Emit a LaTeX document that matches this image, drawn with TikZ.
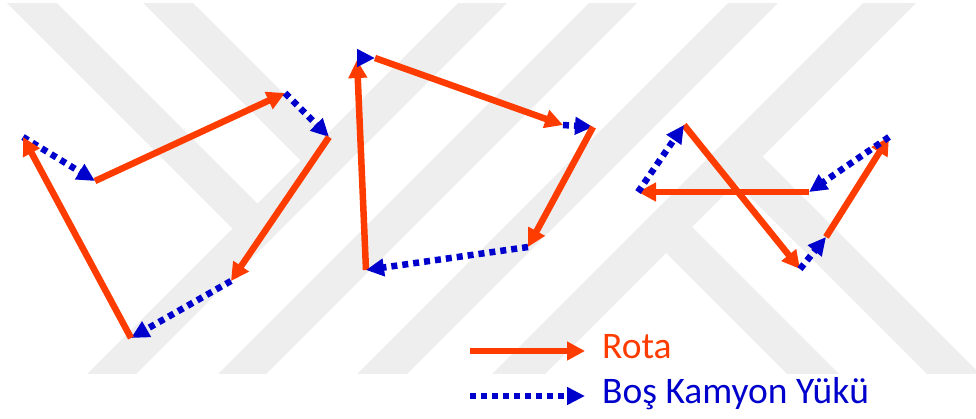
\documentclass[tikz,border=0pt]{standalone}
\usepackage{fontspec}
\setmainfont{Carlito}
\usetikzlibrary{arrows.meta}
\definecolor{rota}{RGB}{255,60,0}
\definecolor{bos}{RGB}{0,0,204}
\definecolor{wm}{RGB}{238,238,238}
\tikzset{
  rotaarrow/.style={draw=rota, line width=6.5pt, -{Triangle[length=18pt,width=18pt]}},
  bosarrow/.style={draw=bos, line width=6.5pt, dash pattern=on 6pt off 5pt, -{Triangle[length=18pt,width=17pt]}},
  wmband/.style={fill=wm, draw=none},
  legendtext/.style={anchor=base west, inner sep=0pt, font=\fontsize{37.5}{42}\selectfont}
}
\begin{document}
\begin{tikzpicture}[x=1pt, y=-1pt]
\useasboundingbox (0,0) rectangle (976,418);
% watermark bands
\begin{scope}
  \clip (0,3) rectangle (976,373);
  % "\" bands ending on band C
  \fill[wmband] (4,0) -- (54,0) -- (267,213) -- (242,238) -- cycle;
  \fill[wmband] (140,0) -- (190,0) -- (335,145) -- (310,170) -- cycle;
  % "/" full-height bands
  \fill[wmband] (461,0) -- (510,0) -- (130,380) -- (81,380) -- cycle;
  \fill[wmband] (592,0) -- (640,0) -- (260,380) -- (212,380) -- cycle;
  \fill[wmband] (731,0) -- (781,0) -- (401,380) -- (351,380) -- cycle;
  \fill[wmband] (866,0) -- (919,0) -- (539,380) -- (486,380) -- cycle;
  % "\" bands hanging off band F
  \fill[wmband] (651.5,238.5) -- (677.5,212.5) -- (845,380) -- (793,380) -- cycle;
  \fill[wmband] (726.5,173.5) -- (753,147) -- (986,380) -- (933,380) -- cycle;
\end{scope}
% group 1
\coordinate (A1) at (23,137);
\coordinate (B1) at (95,181);
\coordinate (C1) at (285,93);
\coordinate (D1) at (329,137);
\coordinate (E1) at (231,281);
\coordinate (F1) at (131,338);
\draw[bosarrow] (A1) -- (B1);
\draw[rotaarrow] (B1) -- (C1);
\draw[bosarrow] (C1) -- (D1);
\draw[rotaarrow] (D1) -- (E1);
\draw[bosarrow] (E1) -- (F1);
\draw[rotaarrow] (F1) -- (A1);
% group 2
\coordinate (A2) at (366,270);
\coordinate (B2) at (357,60);
\coordinate (B2b) at (357,58);
\coordinate (C2) at (375,58);
\coordinate (D2) at (563,125);
\coordinate (F2) at (593,127);
\coordinate (G2) at (528,247);
\draw[rotaarrow] (A2) -- (B2);
\draw[bosarrow] (B2b) -- (C2);
\draw[rotaarrow] (C2) -- (D2);
\draw[bosarrow] (D2) -- (F2);
\draw[rotaarrow] (F2) -- (G2);
\draw[bosarrow] (G2) -- (A2);
% group 3
\coordinate (A3) at (684,125);
\coordinate (B3) at (800,269);
\coordinate (C3) at (826,237);
\coordinate (D3) at (889,137);
\coordinate (E3) at (809,192);
\coordinate (F3) at (638,192);
\draw[rotaarrow] (A3) -- (B3);
\draw[bosarrow] (B3) -- (C3);
\draw[rotaarrow] (C3) -- (D3);
\draw[bosarrow] (D3) -- (E3);
\draw[rotaarrow] (E3) -- (F3);
\draw[bosarrow] (F3) -- (A3);
% legend
\coordinate (L1s) at (470,351);
\coordinate (L1e) at (585,351);
\coordinate (L2s) at (470,396);
\coordinate (L2e) at (585,396);
\draw[rotaarrow] (L1s) -- (L1e);
\draw[bosarrow] (L2s) -- (L2e);
\node[legendtext, text=rota] (rotalabel) at (602,358) {Rota};
\node[legendtext, text=bos] (boslabel) at (602,403) {Boş Kamyon Yükü};
\end{tikzpicture}
\end{document}
